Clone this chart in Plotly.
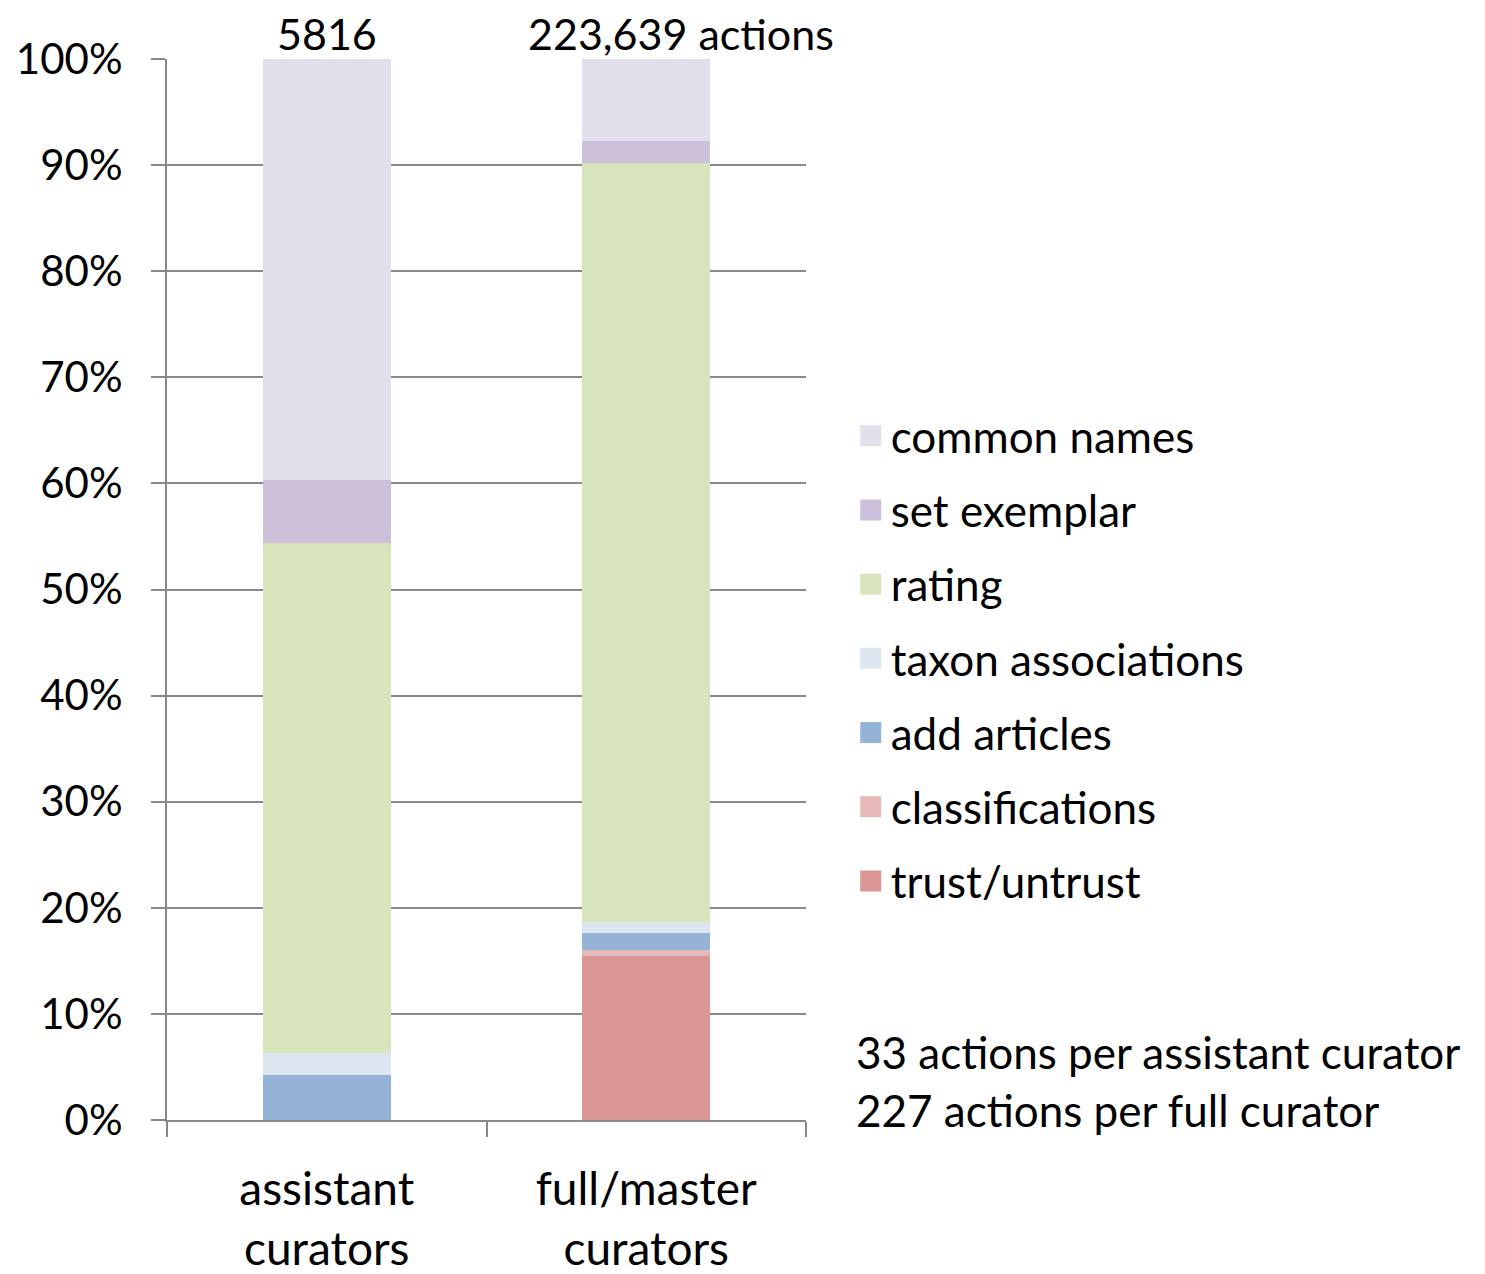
import plotly.graph_objects as go

# Data (share of actions, %)
categories = ["assistant<br>curators", "full/master<br>curators"]
series = ["trust/untrust", "classifications", "add articles", "taxon associations",
          "rating", "set exemplar", "common names"]
values = {
    "trust/untrust": [0.0, 15.5],
    "classifications": [0.0, 0.5],
    "add articles": [4.2, 1.6],
    "taxon associations": [2.1, 1.1],
    "rating": [48.1, 71.5],
    "set exemplar": [5.9, 2.1],
    "common names": [39.7, 7.7],
}
colors = {
    "trust/untrust": "#DA9694",
    "classifications": "#E6B8B7",
    "add articles": "#95B3D7",
    "taxon associations": "#DCE6F1",
    "rating": "#D8E4BC",
    "set exemplar": "#CCC0DA",
    "common names": "#E4DFEC",
}
totals = ["5816", "223,639 actions"]
notes = ["33 actions per assistant curator", "227 actions per full curator"]

FONT = "Lato"
fig = go.Figure()

for s in series:
    fig.add_trace(go.Bar(x=categories, y=values[s], name=s, marker_color=colors[s],
                         marker_line_width=0, showlegend=False))

# legend proxies (top to bottom), bigger squares than the bar legend symbol
for s in reversed(series):
    fig.add_trace(go.Scatter(x=[None], y=[None], mode="markers", name=s, legendgroup=s,
                             marker=dict(symbol="square", size=16, color=colors[s],
                                         line=dict(width=5, color=colors[s]))))

fig.update_layout(
    barmode="stack",
    bargap=0.6,
    width=1485, height=1274,
    margin=dict(l=159, r=687, t=51, b=162),
    plot_bgcolor="white", paper_bgcolor="white",
    font=dict(family=FONT, size=44, color="black"),
    legend=dict(x=1.07, y=0.678, xanchor="left", yanchor="top",
                traceorder="grouped", tracegroupgap=14,
                font=dict(size=44), itemwidth=30, bgcolor="rgba(0,0,0,0)"),
)
fig.update_yaxes(range=[0, 100], dtick=10, ticksuffix="%", showgrid=True, automargin=False,
                 gridcolor="#888888", gridwidth=2, showline=True, linecolor="#888888",
                 linewidth=2, ticks="outside", ticklen=14, tickcolor="#888888", tickwidth=2,
                 ticklabelstandoff=20, tickfont=dict(size=42))
fig.update_xaxes(type="category", categoryorder="array", categoryarray=categories,
                 range=[-0.5, 1.5], automargin=False, showline=True, linecolor="#888888",
                 linewidth=2, ticks="outside", tickson="boundaries", ticklen=15,
                 tickcolor="#888888", tickwidth=2, ticklabelstandoff=28,
                 tickfont=dict(size=46))

for i, t in enumerate(totals):
    fig.add_annotation(x=categories[i], y=100, yref="y", text=t, showarrow=False,
                       yanchor="middle", yshift=26, xshift=[0, 35][i], font=dict(size=43))
for i, n in enumerate(notes):
    fig.add_annotation(xref="paper", yref="paper", x=1.075, y=[0.064, 0.0094][i], text=n,
                       showarrow=False, xanchor="left", yanchor="middle", font=dict(size=44))

fig.write_html("out.html")
